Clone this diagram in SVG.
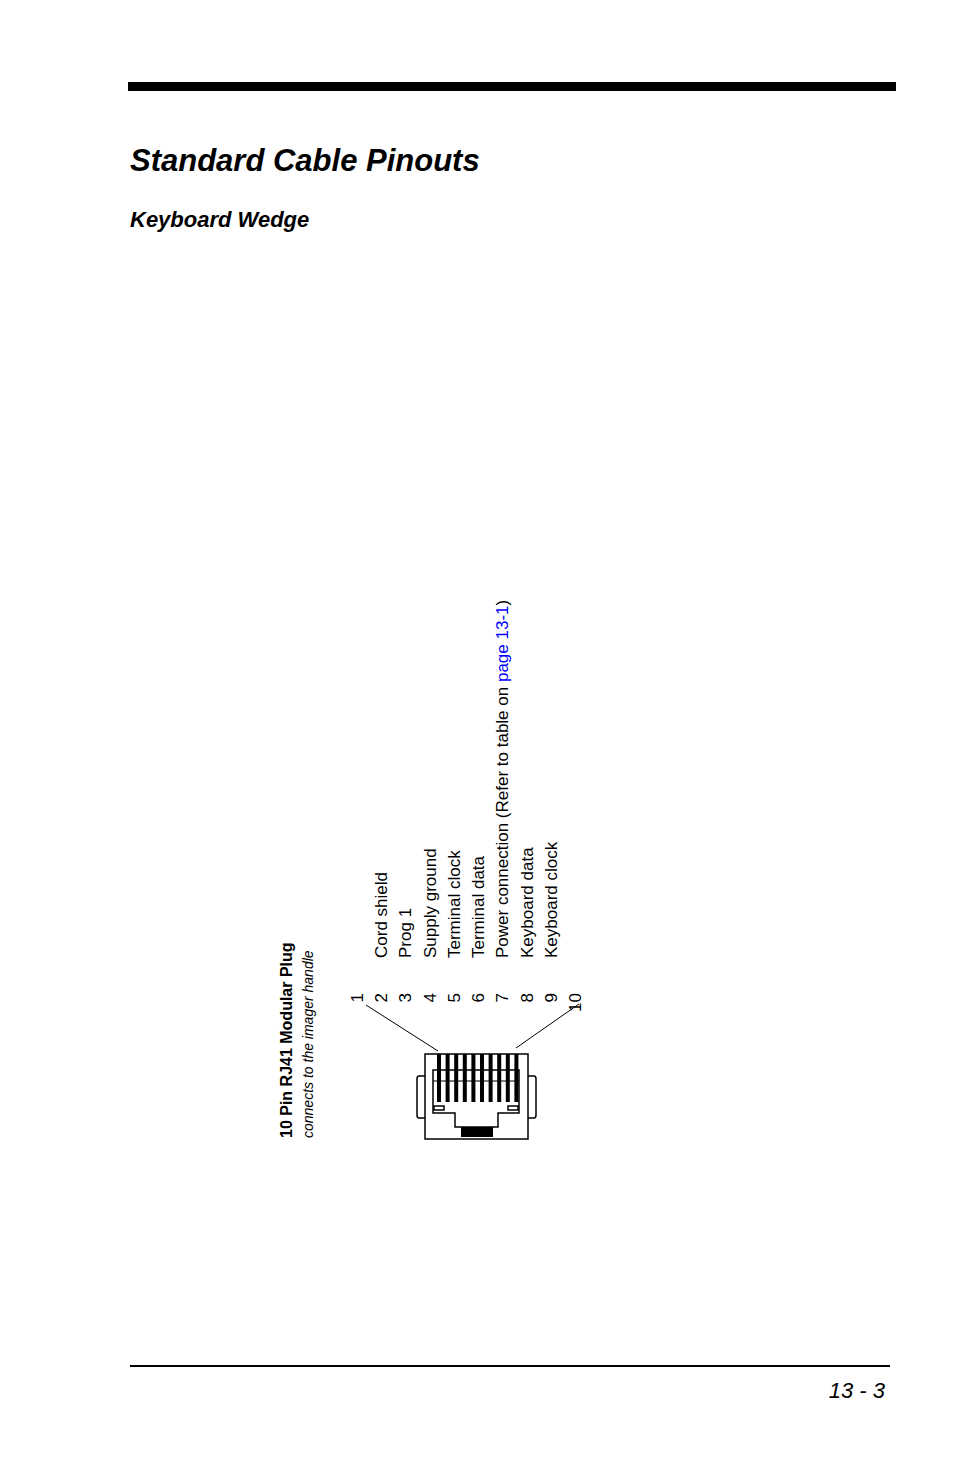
<svg xmlns="http://www.w3.org/2000/svg" width="954" height="1475" viewBox="0 0 954 1475">
<style>
text{font-family:"Liberation Sans",Arial,sans-serif;fill:#000}
.n{font-size:17px}
.k{fill:none;stroke:#000;stroke-width:1.5}
</style>
<rect width="954" height="1475" fill="#fff"/>
<rect x="128" y="82" width="768" height="9" fill="#000"/>
<text x="130" y="171" font-size="31" font-weight="bold" font-style="italic">Standard Cable Pinouts</text>
<text x="130" y="227" font-size="22" font-weight="bold" font-style="italic">Keyboard Wedge</text>
<line x1="130" y1="1366" x2="890" y2="1366" stroke="#000" stroke-width="2"/>
<text x="885" y="1398" font-size="22" font-style="italic" text-anchor="end">13 - 3</text>
<g id="title">
<text transform="translate(292,1138) rotate(-90)" font-size="16" font-weight="bold">10 Pin RJ41 Modular Plug</text>
<text transform="translate(313,1138) rotate(-90)" font-size="14" font-style="italic">connects to the imager handle</text>
</g>
<g id="pins" class="n">
<text class="n" transform="translate(363,993) rotate(-90)" text-anchor="end">1</text>
<text class="n" transform="translate(387,993) rotate(-90)" text-anchor="end">2</text>
<text class="n" transform="translate(411,993) rotate(-90)" text-anchor="end">3</text>
<text class="n" transform="translate(436,993) rotate(-90)" text-anchor="end">4</text>
<text class="n" transform="translate(460,993) rotate(-90)" text-anchor="end">5</text>
<text class="n" transform="translate(484,993) rotate(-90)" text-anchor="end">6</text>
<text class="n" transform="translate(508,993) rotate(-90)" text-anchor="end">7</text>
<text class="n" transform="translate(533,993) rotate(-90)" text-anchor="end">8</text>
<text class="n" transform="translate(557,993) rotate(-90)" text-anchor="end">9</text>
<text class="n" transform="translate(581,993) rotate(-90)" text-anchor="end">10</text>
<text class="n" transform="translate(387,958) rotate(-90)">Cord shield</text>
<text class="n" transform="translate(411,958) rotate(-90)">Prog 1</text>
<text class="n" transform="translate(436,958) rotate(-90)">Supply ground</text>
<text class="n" transform="translate(460,958) rotate(-90)">Terminal clock</text>
<text class="n" transform="translate(484,958) rotate(-90)">Terminal data</text>
<text class="n" transform="translate(508,958) rotate(-90)">Power connection  (Refer to table on <tspan fill="#00f">page 13-1</tspan>)</text>
<text class="n" transform="translate(533,958) rotate(-90)">Keyboard data</text>
<text class="n" transform="translate(557,958) rotate(-90)">Keyboard clock</text>
</g>
<g id="connectors">
<line x1="366" y1="1005" x2="438" y2="1051" stroke="#000"/>
<line x1="579" y1="1004" x2="516" y2="1048" stroke="#000"/>
</g>
<g id="plug">
<rect x="425" y="1054" width="103" height="85" class="k"/>
<path d="M425 1076 H419 Q417 1076 417 1079 V1115 Q417 1118 419 1118 H425 M528 1076 H534 Q536 1076 536 1079 V1115 Q536 1118 534 1118 H528" class="k"/>
<path d="M433 1070 H519 V1113 H498 V1127 H455 V1113 H433 Z" class="k"/>
<rect x="461" y="1127" width="32" height="10" fill="#000"/>
<rect x="434" y="1106" width="10" height="4" class="k" stroke-width="1"/>
<rect x="508" y="1106" width="10" height="4" class="k" stroke-width="1"/>
<g fill="#000">
<rect x="437" y="1054" width="4" height="48"/>
<rect x="445.6" y="1054" width="4" height="48"/>
<rect x="454.2" y="1054" width="4" height="48"/>
<rect x="462.8" y="1054" width="4" height="48"/>
<rect x="471.4" y="1054" width="4" height="48"/>
<rect x="480" y="1054" width="4" height="48"/>
<rect x="488.6" y="1054" width="4" height="48"/>
<rect x="497.2" y="1054" width="4" height="48"/>
<rect x="505.8" y="1054" width="4" height="48"/>
<rect x="514.4" y="1054" width="4" height="48"/>
</g>
<line x1="433" y1="1081" x2="519" y2="1081" stroke="#000"/>
</g>
</svg>
